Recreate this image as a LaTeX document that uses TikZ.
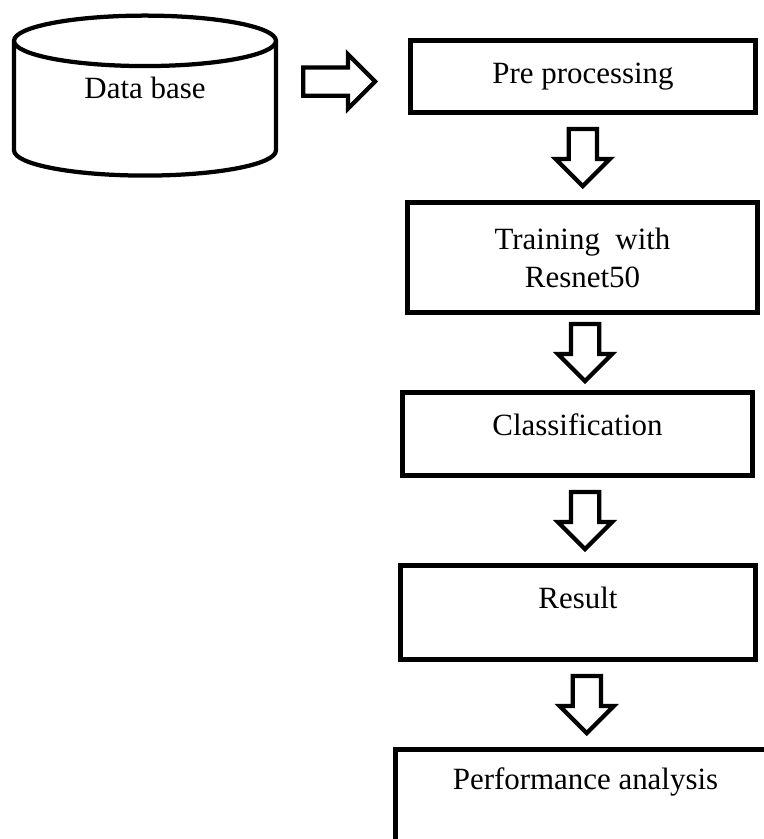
\documentclass[tikz,border=0pt]{standalone}
\usepackage{fontspec}
\setmainfont{Liberation Serif}
\usetikzlibrary{shapes.geometric,shapes.arrows,calc}

\tikzset{
  box/.style={draw, line width=0.1cm, rectangle, align=center, inner sep=0pt},
  blockarrow/.style={draw, line width=0.085cm, single arrow, inner xsep=0pt, inner ysep=0.24cm,
    minimum height=1.14cm, minimum width=1.06cm, single arrow head extend=0.26cm},
}

\begin{document}
\begin{tikzpicture}[x=0.02cm, y=-0.02cm, font=\fontsize{17.6}{21.6}\selectfont]
            \clip (0,0) rectangle (764,839);
            \node[draw, line width=0.085cm, cylinder, shape border rotate=90, aspect=0.38,
              minimum width=5.24cm, minimum height=3.2cm, text depth=1cm] (db) at (145,113) {Data base};
            \node[box, minimum width=6.9cm, minimum height=1.44cm] (pre) at (583,76.5) {Pre processing};
            \node[box, minimum width=7cm, minimum height=2.2cm] (train) at (582.5,257.5) {Training\ \ with\\Resnet50};
            \node[box, minimum width=7cm, minimum height=1.66cm, text depth=0.36cm] (cls) at (577.5,434) {Classification};
            \node[box, minimum width=7.1cm, minimum height=1.88cm, text depth=0.58cm] (res) at (578,612.5) {Result};
            \node[box, minimum width=7.6cm, minimum height=2cm, text depth=0.82cm] (perf) at (585.5,799.5) {Performance analysis};
            % hollow arrows between the steps
            \node[blockarrow, minimum height=1.44cm, xshift=-0.22cm, yshift=-0.1cm] (a0) at ($(db.east |- pre.west)!0.5!(pre.west)$) {};
            \node[blockarrow, yshift=0.14cm, rotate=-90] (a1) at ($(pre.south)!0.5!(train.north)$) {};
            \node[blockarrow, xshift=0.1cm, yshift=0.14cm, rotate=-90] (a2) at ($(train.south)!0.5!(cls.north)$) {};
            \node[blockarrow, xshift=0.145cm, yshift=0.14cm, rotate=-90] (a3) at ($(cls.south)!0.5!(res.north)$) {};
            \node[blockarrow, xshift=0.1cm, yshift=0.14cm, rotate=-90] (a4) at ($(res.south)!0.5!(perf.north)$) {};
        \end{tikzpicture}
\end{document}
